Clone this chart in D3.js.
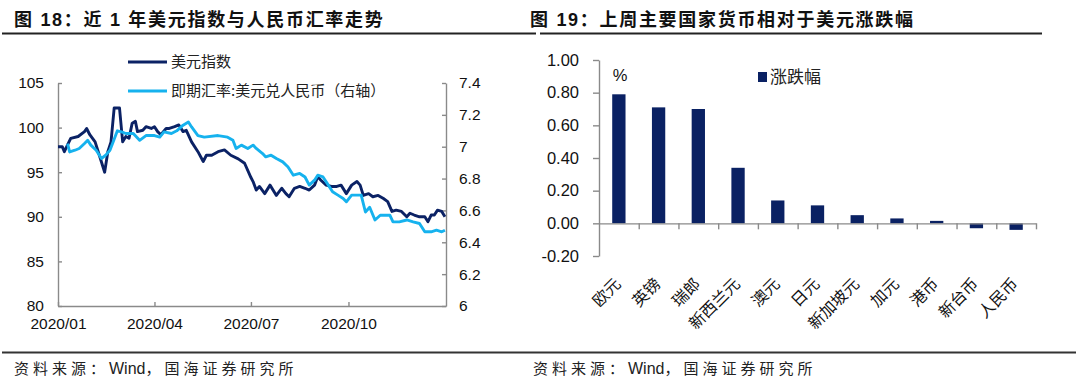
<!DOCTYPE html>
<html><head><meta charset="utf-8">
<script src="https://cdn.jsdelivr.net/npm/d3@7"></script>
<style>
body{margin:0;background:#fff;}
svg{display:block;}
text{font-family:"Liberation Sans","Noto Sans CJK SC",sans-serif;}
.cjk{font-family:"Noto Sans CJK SC","Liberation Sans",sans-serif;}
</style></head>
<body><svg id="c" width="1080" height="388"></svg>
<script>
// ---------- Left chart data ----------
const dxyDates = ["2020-01-01","2020-01-05","2020-01-07","2020-01-10","2020-01-13","2020-01-20","2020-01-26","2020-01-28","2020-01-31","2020-02-05","2020-02-09","2020-02-14","2020-02-17","2020-02-20","2020-02-23","2020-02-28","2020-03-02","2020-03-05","2020-03-08","2020-03-11","2020-03-14","2020-03-16","2020-03-21","2020-03-24","2020-03-29","2020-04-01","2020-04-04","2020-04-07","2020-04-12","2020-04-15","2020-04-20","2020-04-24","2020-04-28","2020-05-01","2020-05-06","2020-05-12","2020-05-17","2020-05-20","2020-05-25","2020-05-31","2020-06-06","2020-06-12","2020-06-19","2020-06-25","2020-07-01","2020-07-03","2020-07-06","2020-07-09","2020-07-14","2020-07-19","2020-07-25","2020-07-30","2020-08-03","2020-08-06","2020-08-11","2020-08-16","2020-08-21","2020-08-25","2020-08-30","2020-09-02","2020-09-05","2020-09-10","2020-09-15","2020-09-20","2020-09-24","2020-09-29","2020-10-04","2020-10-09","2020-10-12","2020-10-15","2020-10-20","2020-10-24","2020-10-29","2020-11-03","2020-11-07","2020-11-11","2020-11-15","2020-11-20","2020-11-25","2020-11-28","2020-12-02","2020-12-07","2020-12-12","2020-12-15","2020-12-18","2020-12-21","2020-12-24","2020-12-28","2020-12-31"];
const dxyValues = [97.86,97.86,97.3,98.05,98.8,99.0,99.55,99.9,99.2,98.4,96.9,95.0,97.3,98.4,102.2,102.2,98.4,99.0,98.8,100.5,100.7,99.55,99.7,100.1,99.9,100.1,99.55,99.2,99.9,99.9,100.1,100.3,99.55,99.7,98.4,97.3,96.2,96.9,96.9,97.3,97.5,96.9,96.5,96.0,94.4,93.95,93.0,93.4,92.6,93.55,92.4,93.2,92.6,92.25,93.2,93.4,93.2,93.0,93.55,94.5,94.1,93.55,93.4,93.4,93.55,92.6,93.55,93.95,93.55,92.4,92.6,92.25,92.4,92.05,91.7,90.6,90.75,90.6,90.0,90.4,90.2,90.0,90.0,89.45,90.2,90.2,90.75,90.6,90.0];
const cnyDates = ["2020-01-10","2020-01-12","2020-01-17","2020-01-21","2020-01-26","2020-01-29","2020-02-01","2020-02-06","2020-02-11","2020-02-15","2020-02-19","2020-02-22","2020-02-26","2020-03-01","2020-03-05","2020-03-12","2020-03-18","2020-03-24","2020-04-01","2020-04-06","2020-04-10","2020-04-17","2020-04-22","2020-04-28","2020-05-03","2020-05-06","2020-05-12","2020-05-18","2020-05-31","2020-06-09","2020-06-14","2020-06-17","2020-06-22","2020-06-28","2020-07-03","2020-07-06","2020-07-12","2020-07-15","2020-07-20","2020-07-25","2020-07-31","2020-08-05","2020-08-10","2020-08-16","2020-08-21","2020-08-25","2020-08-30","2020-09-02","2020-09-07","2020-09-12","2020-09-16","2020-09-21","2020-09-26","2020-09-29","2020-10-04","2020-10-09","2020-10-13","2020-10-17","2020-10-21","2020-10-26","2020-10-31","2020-11-04","2020-11-09","2020-11-12","2020-11-18","2020-11-25","2020-12-01","2020-12-07","2020-12-12","2020-12-18","2020-12-23","2020-12-28","2020-12-31"];
const cnyValues = [7.02,6.967,6.978,6.989,7.02,7.04,7.01,6.978,6.926,6.947,6.978,7.03,7.10,7.093,7.083,7.083,7.04,7.07,7.07,7.06,7.093,7.083,7.10,7.135,7.155,7.124,7.07,7.06,7.07,7.06,7.04,6.989,7.01,6.989,7.01,6.989,6.957,6.936,6.947,6.926,6.905,6.873,6.821,6.832,6.81,6.759,6.79,6.821,6.81,6.759,6.717,6.696,6.675,6.654,6.696,6.696,6.696,6.59,6.62,6.54,6.57,6.57,6.57,6.528,6.528,6.54,6.528,6.518,6.466,6.466,6.476,6.466,6.476];
const leftTicks = [80,85,90,95,100,105];
const rightTicks = [6,6.2,6.4,6.6,6.8,7,7.2,7.4];
const xTickLabels = ["2020/01","2020/04","2020/07","2020/10"];
const seriesNames = ["美元指数","即期汇率:美元兑人民币（右轴）"];

// ---------- Right chart data ----------
const currencies = ["欧元","英镑","瑞郎","新西兰元","澳元","日元","新加坡元","加元","港币","新台币","人民币"];
const changes = [0.79,0.71,0.70,0.34,0.14,0.11,0.05,0.03,0.015,-0.03,-0.04];
const barTicks = [-0.2,0,0.2,0.4,0.6,0.8,1.0];

const titles = ["图 18：近 1 年美元指数与人民币汇率走势","图 19：上周主要国家货币相对于美元涨跌幅"];
const sourceParts = ["资料来源：","Wind","，国海证券研究所"];

const DARK = "#0b2265", LIGHT = "#16b2ee", BAR = "#0a2163", AX = "#8a8a8a";
const svg = d3.select("#c");
svg.append("rect").attr("width",1080).attr("height",388).attr("fill","#fff");

// titles and rules
svg.append("text").attr("x",14).attr("y",26).attr("font-size",18).attr("font-weight","bold")
  .attr("letter-spacing",1.7).attr("fill","#111").text(titles[0]);
svg.append("text").attr("x",530).attr("y",26).attr("font-size",18).attr("font-weight","bold")
  .attr("letter-spacing",1.7).attr("fill","#111").text(titles[1]);
svg.append("line").attr("x1",2).attr("x2",536).attr("y1",33.5).attr("y2",33.5).attr("stroke","#222").attr("stroke-width",2);
svg.append("line").attr("x1",540).attr("x2",1042).attr("y1",33.5).attr("y2",33.5).attr("stroke","#222").attr("stroke-width",2);
svg.append("line").attr("x1",2).attr("x2",1076).attr("y1",352.5).attr("y2",352.5).attr("stroke","#333").attr("stroke-width",2);
[14,533].forEach(x0=>{
  const t = svg.append("text").attr("class","cjk").attr("x",x0).attr("y",374).attr("font-size",15).attr("fill","#222");
  t.append("tspan").attr("letter-spacing",4).text(sourceParts[0]);
  t.append("tspan").attr("letter-spacing",0).attr("font-family","Liberation Sans Narrow, Liberation Sans, sans-serif").attr("font-size",16).text(sourceParts[1]);
  t.append("tspan").attr("letter-spacing",4).text(sourceParts[2]);
});

// ---------- Left chart ----------
const parse = d3.timeParse("%Y-%m-%d");
const dxy = dxyDates.map((d,i)=>({date:parse(d),v:dxyValues[i]}));
const cny = cnyDates.map((d,i)=>({date:parse(d),v:cnyValues[i]}));
const x = d3.scaleTime().domain([new Date(2020,0,1), new Date(2021,0,1)]).range([58,446]);
const yL = d3.scaleLinear().domain([80,105]).range([306,83]);
const yR = d3.scaleLinear().domain([6,7.4]).range([306,83]);
const tickDates = xTickLabels.map(s=>d3.timeParse("%Y/%m")(s));

function styleAxis(g){
  g.selectAll("path,line").attr("stroke",AX).attr("stroke-width",1.4);
  g.selectAll("text").attr("fill","#111").attr("font-family","Liberation Sans, sans-serif");
}
svg.append("g").attr("transform","translate(58,0)")
  .call(d3.axisLeft(yL).tickValues(leftTicks).tickSizeInner(-4).tickSizeOuter(0).tickPadding(14))
  .call(styleAxis).selectAll("text").attr("font-size",15.5);
svg.append("g").attr("transform","translate(446,0)")
  .call(d3.axisRight(yR).tickValues(rightTicks).tickSizeInner(-4).tickSizeOuter(0).tickPadding(13).tickFormat(d=>String(+d.toFixed(1))))
  .call(styleAxis).selectAll("text").attr("font-size",15.5);
svg.append("g").attr("transform","translate(0,306)")
  .call(d3.axisBottom(x).tickValues(tickDates).tickSizeInner(-4).tickSizeOuter(0).tickPadding(12).tickFormat(d3.timeFormat("%Y/%m")))
  .call(styleAxis).selectAll("text").attr("font-size",15.5);

const lineL = d3.line().x(d=>x(d.date)).y(d=>yL(d.v));
const lineR = d3.line().x(d=>x(d.date)).y(d=>yR(d.v));
svg.append("path").datum(dxy).attr("d",lineL).attr("fill","none").attr("stroke",DARK).attr("stroke-width",2.9).attr("stroke-linejoin","round");
svg.append("path").datum(cny).attr("d",lineR).attr("fill","none").attr("stroke",LIGHT).attr("stroke-width",2.9).attr("stroke-linejoin","round");

// legend
[[DARK,62],[LIGHT,91]].forEach(([c,yy],i)=>{
  svg.append("line").attr("x1",128).attr("x2",167).attr("y1",yy).attr("y2",yy).attr("stroke",c).attr("stroke-width",3);
  svg.append("text").attr("class","cjk").attr("x",171).attr("y",yy).attr("dy","0.35em").attr("font-size",15).attr("fill","#222").text(seriesNames[i]);
});

// ---------- Right chart ----------
const xb = d3.scaleBand().domain(currencies).range([599,1036]).paddingInner(0.665).paddingOuter(0.3325);
const yb = d3.scaleLinear().domain([-0.2,1.0]).range([256,60]);

svg.append("g").attr("transform","translate(599,0)")
  .call(d3.axisLeft(yb).tickValues(barTicks).tickSizeInner(6).tickSizeOuter(0).tickPadding(14).tickFormat(d=>d.toFixed(2)))
  .call(styleAxis).selectAll("text").attr("font-size",16.5);

svg.selectAll("rect.bar").data(currencies).enter().append("rect").attr("class","bar")
  .attr("x",d=>xb(d)).attr("width",xb.bandwidth())
  .attr("y",(d,i)=>yb(Math.max(0,changes[i])))
  .attr("height",(d,i)=>Math.abs(yb(changes[i])-yb(0)))
  .attr("fill",BAR);

const xIdx = d3.scaleLinear().domain([0,currencies.length]).range(xb.range());
svg.append("g").attr("transform",`translate(0,${yb(0)})`)
  .call(d3.axisBottom(xIdx).tickValues(d3.range(1,currencies.length+1)).tickSizeInner(6).tickSizeOuter(0).tickFormat(""))
  .call(styleAxis);

svg.selectAll("text.cat").data(currencies).enter().append("text").attr("class","cat cjk")
  .attr("transform",d=>`translate(${xb(d)+xb.bandwidth()/2+3},285) rotate(-45)`)
  .attr("text-anchor","end").attr("font-size",16).attr("fill","#111").text(d=>d);

svg.append("text").attr("x",620).attr("y",75).attr("dy","0.35em").attr("text-anchor","middle").attr("font-size",16.5).attr("fill","#111").text("%");
svg.append("rect").attr("x",758).attr("y",72).attr("width",9).attr("height",10).attr("fill",BAR);
svg.append("text").attr("class","cjk").attr("x",770).attr("y",77).attr("dy","0.35em").attr("font-size",17).attr("fill","#222").text("涨跌幅");
</script></body></html>
